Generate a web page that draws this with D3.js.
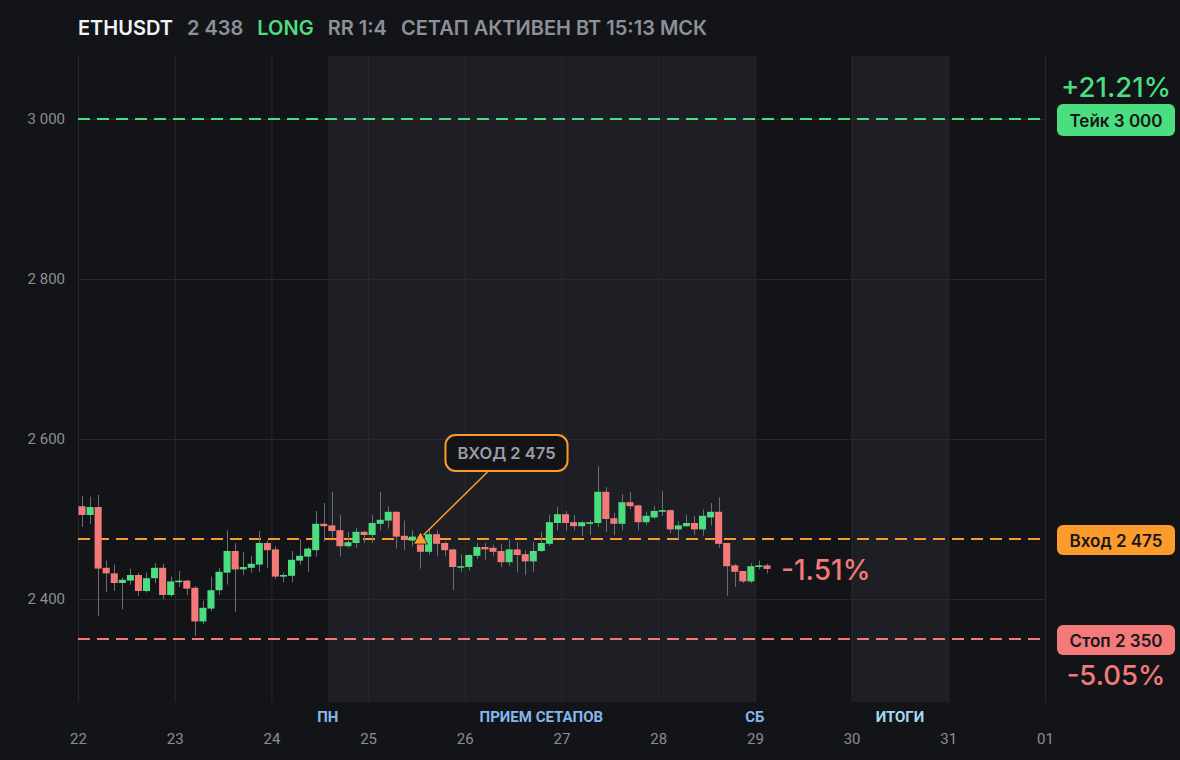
<!DOCTYPE html>
<html>
<head>
<meta charset="utf-8">
<script src="https://cdn.jsdelivr.net/npm/d3@7"></script>
<style>
  html, body { margin: 0; padding: 0; background: #131418; }
  svg { display: block; }
</style>
</head>
<body>
<script>
// Values.
const headerItems = ['ETHUSDT', '2 438', 'LONG', 'RR 1:4', 'СЕТАП АКТИВЕН ВТ 15:13 МСК'];

// 2h candles starting 22 March.
const firstCandle = '2025-03-22T00:00:00Z';
const candleHours = 2;
const opens = [2516, 2505, 2515, 2439, 2432, 2420, 2423, 2430, 2410, 2426,
  2439, 2405, 2421, 2423, 2414, 2372, 2388, 2411, 2433, 2460,
  2437, 2439, 2443, 2470, 2462, 2428, 2429, 2448, 2453, 2461,
  2494, 2492, 2486, 2466, 2470, 2484, 2480, 2494, 2498, 2509,
  2479, 2473, 2477, 2459, 2481, 2470, 2462, 2440, 2440, 2454,
  2465, 2464, 2460, 2446, 2462, 2456, 2447, 2460, 2469, 2495,
  2506, 2496, 2491, 2494, 2495, 2534, 2501, 2494, 2521, 2517,
  2496, 2502, 2509, 2511, 2487, 2491, 2495, 2487, 2502, 2509,
  2470, 2442, 2435, 2422, 2440, 2442];
const highs = [2529, 2528, 2530, 2448, 2443, 2427, 2438, 2433, 2433, 2445,
  2444, 2428, 2435, 2424, 2416, 2398, 2428, 2439, 2486, 2470,
  2459, 2454, 2485, 2473, 2466, 2433, 2460, 2475, 2465, 2510,
  2520, 2534, 2505, 2484, 2489, 2485, 2505, 2534, 2516, 2510,
  2498, 2486, 2480, 2488, 2486, 2472, 2463, 2456, 2456, 2470,
  2470, 2468, 2469, 2475, 2471, 2461, 2471, 2484, 2505, 2515,
  2510, 2505, 2497, 2499, 2566, 2540, 2508, 2531, 2534, 2518,
  2509, 2516, 2535, 2512, 2497, 2505, 2504, 2512, 2520, 2527,
  2470, 2444, 2435, 2445, 2448, 2444];
const lows = [2490, 2494, 2379, 2409, 2410, 2387, 2418, 2404, 2408, 2420,
  2400, 2403, 2415, 2405, 2354, 2369, 2385, 2405, 2418, 2384,
  2430, 2433, 2434, 2439, 2425, 2421, 2421, 2443, 2434, 2453,
  2472, 2476, 2453, 2464, 2464, 2470, 2470, 2486, 2488, 2463,
  2461, 2466, 2438, 2455, 2453, 2453, 2411, 2434, 2436, 2450,
  2449, 2453, 2440, 2441, 2433, 2430, 2434, 2459, 2466, 2486,
  2485, 2486, 2479, 2480, 2490, 2484, 2480, 2486, 2512, 2486,
  2492, 2500, 2504, 2482, 2475, 2490, 2480, 2479, 2492, 2464,
  2404, 2415, 2420, 2420, 2437, 2432];
const closes = [2505, 2515, 2438, 2432, 2420, 2424, 2430, 2410, 2426, 2439,
  2405, 2422, 2423, 2413, 2372, 2389, 2411, 2434, 2460, 2437,
  2440, 2444, 2470, 2461, 2428, 2430, 2449, 2454, 2463, 2494,
  2491, 2485, 2466, 2471, 2484, 2480, 2495, 2499, 2509, 2478,
  2474, 2478, 2459, 2481, 2469, 2461, 2440, 2441, 2455, 2465,
  2462, 2459, 2446, 2462, 2455, 2447, 2460, 2470, 2496, 2506,
  2495, 2491, 2496, 2496, 2534, 2500, 2494, 2521, 2516, 2496,
  2504, 2510, 2511, 2487, 2492, 2495, 2487, 2504, 2509, 2469,
  2441, 2434, 2422, 2441, 2442, 2437.6];

// Trade levels.
const entryPrice = 2475;
const takePrice = 3000;
const stopPrice = 2350;
const entryTime = '2025-03-25T13:00:00Z';

// Axes.
const yTicks = [2400, 2600, 2800, 3000];
const xDomain = ['2025-03-22T00:00:00Z', '2025-04-01T00:00:00Z'];
const yDomain = [2271.25, 3078.75];

// Session bands and their captions.
const bands = [
  {from: '2025-03-24T14:00:00Z', to: '2025-03-29T00:00:00Z'},
  {from: '2025-03-30T00:00:00Z', to: '2025-03-31T00:00:00Z'}
];
const bandLabels = [
  {text: 'ПН', at: '2025-03-24T14:00:00Z', color: '#84b7ef'},
  {text: 'ПРИЕМ СЕТАПОВ', at: '2025-03-26T19:00:00Z', color: '#84b7ef'},
  {text: 'СБ', at: '2025-03-29T00:00:00Z', color: '#84b7ef'},
  {text: 'ИТОГИ', at: '2025-03-30T12:00:00Z', color: '#a6d8f1'}
];

// Colours.
const colors = {
  bg: '#131418', band: '#1e1f24', grid: '#28292f',
  up: '#4ade80', down: '#f47a7a', entry: '#fb9b2c',
  wick: '#6b6e76', axisText: '#8b8e97', headText: '#8d9099'
};

// Layout.
const width = 1180, height = 760;
const plot = {left: 78, right: 1045, top: 56, bottom: 702};

const parse = (s) => new Date(s);
const ruLocale = d3.formatLocale({decimal: '.', thousands: ' ', grouping: [3], currency: ['', '']});
const fmtPrice = ruLocale.format(',');
const pct = (v) => {
  const p = (v - entryPrice) / entryPrice * 100;
  return (p > 0 ? '+' : '-') + Math.abs(p).toFixed(2) + '%';
};

const candles = opens.map((o, i) => ({
  t: d3.utcHour.offset(parse(firstCandle), i * candleHours),
  o: o, h: highs[i], l: lows[i], c: closes[i]
}));

const x = d3.scaleUtc()
  .domain(xDomain.map(parse))
  .range([plot.left, plot.right]);
const y = d3.scaleLinear()
  .domain(yDomain)
  .range([plot.bottom, plot.top]);

const svg = d3.select('body')
  .append('svg')
  .attr('width', width)
  .attr('height', height)
  .style('font-family', 'Inter, "Noto Sans", sans-serif');

svg.append('rect')
  .attr('width', width)
  .attr('height', height)
  .attr('fill', colors.bg);

// Header line.
let hx = plot.left;
headerItems.forEach((txt, i) => {
  const t = svg.append('text')
    .attr('x', hx)
    .attr('y', 35)
    .attr('font-size', 20)
    .attr('font-weight', 600)
    .attr('fill', i === 0 ? '#f3f4f6' : (i === 2 ? colors.up : colors.headText))
    .text(txt);
  hx += t.node().getComputedTextLength() + 14;
});

// Shaded session bands.
svg.append('g')
  .selectAll('rect')
  .data(bands)
  .join('rect')
  .attr('x', (d) => x(parse(d.from)))
  .attr('width', (d) => x(parse(d.to)) - x(parse(d.from)))
  .attr('y', plot.top)
  .attr('height', plot.bottom - plot.top)
  .attr('fill', colors.band);

// Y axis with grid.
const yAxis = d3.axisLeft(y)
  .tickValues(yTicks)
  .tickFormat(fmtPrice)
  .tickSizeInner(-(plot.right - plot.left))
  .tickSizeOuter(0)
  .tickPadding(13);

const gy = svg.append('g')
  .attr('transform', 'translate(' + plot.left + ',0)')
  .call(yAxis);
gy.select('.domain').remove();
gy.selectAll('line').attr('stroke', colors.grid);
gy.selectAll('text')
  .attr('fill', colors.axisText)
  .attr('font-size', 15)
  .attr('font-family', 'Roboto, sans-serif');

// X axis with grid.
const xAxis = d3.axisBottom(x)
  .ticks(d3.utcDay.every(1))
  .tickFormat(d3.utcFormat('%d'))
  .tickSizeInner(-(plot.bottom - plot.top))
  .tickSizeOuter(0)
  .tickPadding(31);

const gx = svg.append('g')
  .attr('transform', 'translate(0,' + plot.bottom + ')')
  .call(xAxis);
gx.select('.domain').remove();
gx.selectAll('line').attr('stroke', colors.grid);
gx.selectAll('text')
  .attr('fill', colors.axisText)
  .attr('font-size', 15)
  .attr('font-family', 'Roboto, sans-serif');

// Band captions.
svg.append('g')
  .selectAll('text')
  .data(bandLabels)
  .join('text')
  .attr('x', (d) => x(parse(d.at)))
  .attr('y', 722)
  .attr('text-anchor', 'middle')
  .attr('font-family', 'Roboto, sans-serif')
  .attr('font-size', 15)
  .attr('font-weight', 700)
  .attr('fill', (d) => d.color)
  .text((d) => d.text);

// Level lines.
const levels = [
  {price: takePrice, color: colors.up},
  {price: entryPrice, color: colors.entry},
  {price: stopPrice, color: colors.down}
];
svg.append('g')
  .selectAll('line')
  .data(levels)
  .join('line')
  .attr('x1', plot.left)
  .attr('x2', plot.right)
  .attr('y1', (d) => y(d.price))
  .attr('y2', (d) => y(d.price))
  .attr('stroke', (d) => d.color)
  .attr('stroke-width', 2)
  .attr('stroke-dasharray', '12 7');

// Candles.
const slot = (d) => x(d3.utcHour.offset(d.t, candleHours)) - x(d.t);
const gc = svg.append('g');
gc.selectAll('line')
  .data(candles)
  .join('line')
  .attr('x1', (d) => Math.round(x(d.t) + slot(d) / 2) + 0.5)
  .attr('x2', (d) => Math.round(x(d.t) + slot(d) / 2) + 0.5)
  .attr('y1', (d) => y(d.h))
  .attr('y2', (d) => y(d.l))
  .attr('stroke', colors.wick)
  .attr('stroke-width', 1);
gc.selectAll('rect')
  .data(candles)
  .join('rect')
  .attr('x', (d) => x(d.t) + 0.5)
  .attr('width', (d) => slot(d) - 1)
  .attr('y', (d) => y(Math.max(d.o, d.c)))
  .attr('height', (d) => Math.max(1.5, Math.abs(y(d.o) - y(d.c))))
  .attr('fill', (d) => d.c >= d.o ? colors.up : colors.down);

// Last price change label.
const last = candles[candles.length - 1];
svg.append('text')
  .attr('x', x(d3.utcHour.offset(last.t, candleHours)) + 10)
  .attr('y', y(last.c) + 11)
  .attr('font-size', 28)
  .attr('font-weight', 500)
  .attr('fill', colors.down)
  .text(pct(last.c));

// Entry marker and callout.
const mx = x(parse(entryTime));
const my = y(entryPrice);
const boxX = mx + 25, boxY = my - 104, boxH = 36;
const callout = svg.append('g');
const calloutBox = callout.append('rect')
  .attr('x', boxX)
  .attr('y', boxY)
  .attr('height', boxH)
  .attr('rx', 10)
  .attr('fill', colors.bg)
  .attr('stroke', colors.entry)
  .attr('stroke-width', 2);
const calloutText = callout.append('text')
  .attr('x', boxX + 12)
  .attr('y', boxY + 24)
  .attr('font-size', 16.5)
  .attr('font-weight', 600)
  .attr('fill', '#9a9ea7')
  .text('ВХОД ' + fmtPrice(entryPrice));
calloutBox.attr('width', calloutText.node().getComputedTextLength() + 24);
callout.append('line')
  .attr('x1', boxX + 42)
  .attr('y1', boxY + boxH + 1)
  .attr('x2', mx + 3)
  .attr('y2', my - 4)
  .attr('stroke', colors.entry)
  .attr('stroke-width', 1.5);
callout.append('path')
  .attr('d', d3.symbol(d3.symbolTriangle, 85)())
  .attr('transform', 'translate(' + mx + ',' + (my + 1) + ')')
  .attr('fill', colors.entry)
  .attr('stroke', '#1a1a1a')
  .attr('stroke-width', 0.8);

// Right side badges.
const badges = [
  {price: takePrice, label: 'Тейк ' + fmtPrice(takePrice), color: colors.up, h: 32},
  {price: entryPrice, label: 'Вход ' + fmtPrice(entryPrice), color: colors.entry, h: 30},
  {price: stopPrice, label: 'Стоп ' + fmtPrice(stopPrice), color: colors.down, h: 30}
];
const bx = 1057, bw = 118;
const gb = svg.append('g')
  .selectAll('g')
  .data(badges)
  .join('g')
  .attr('transform', (d) => 'translate(' + bx + ',' + (y(d.price) + 1) + ')');
gb.append('rect')
  .attr('y', (d) => -d.h / 2)
  .attr('width', bw)
  .attr('height', (d) => d.h)
  .attr('rx', 6)
  .attr('fill', (d) => d.color);
gb.append('text')
  .attr('x', bw / 2)
  .attr('y', 6.5)
  .attr('text-anchor', 'middle')
  .attr('font-size', 17)
  .attr('font-weight', 600)
  .attr('fill', '#16171b')
  .text((d) => d.label);

// Percent distance to take and stop.
svg.append('text')
  .attr('x', bx + bw / 2)
  .attr('y', y(takePrice) - 22)
  .attr('text-anchor', 'middle')
  .attr('font-size', 27.5)
  .attr('font-weight', 500)
  .attr('fill', colors.up)
  .text(pct(takePrice));
svg.append('text')
  .attr('x', bx + bw / 2)
  .attr('y', y(stopPrice) + 46)
  .attr('text-anchor', 'middle')
  .attr('font-size', 27.5)
  .attr('font-weight', 500)
  .attr('fill', colors.down)
  .text(pct(stopPrice));
</script>
</body>
</html>
